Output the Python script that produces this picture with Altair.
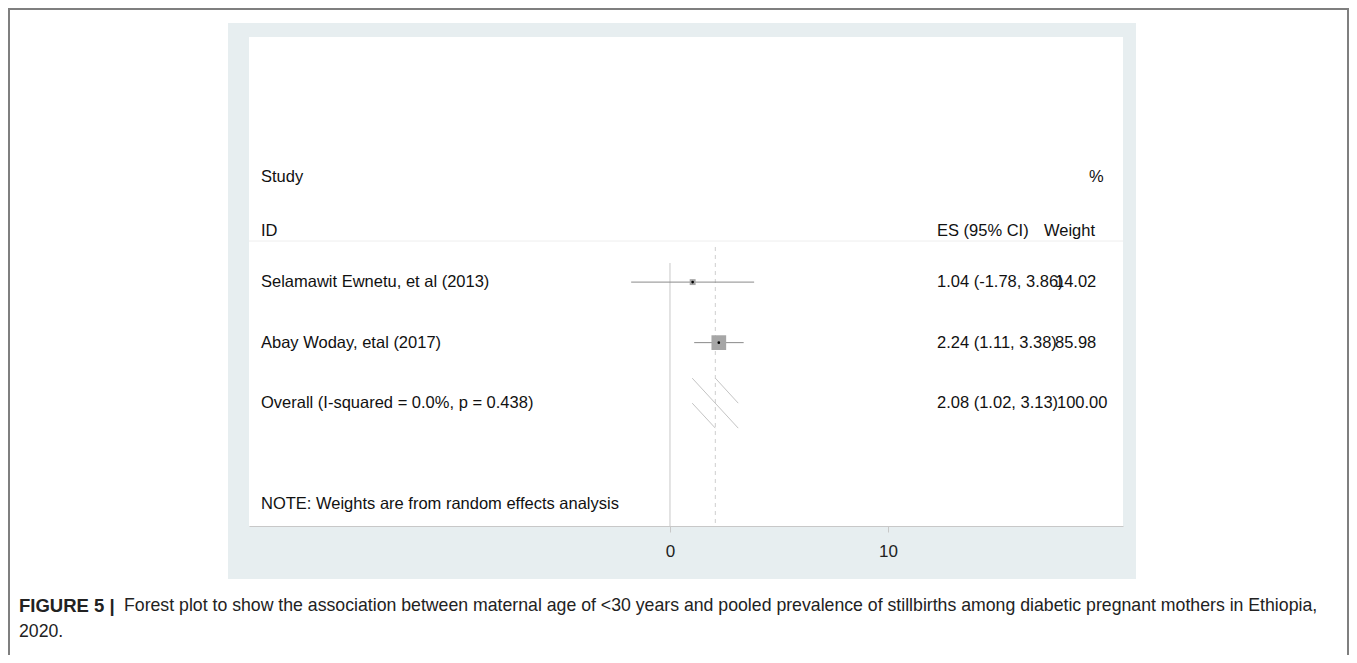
import altair as alt
import pandas as pd

# ---------------- data ----------------
studies = ["Selamawit Ewnetu, et al (2013)", "Abay Woday, etal (2017)"]
rows = [1, 2]
es = [1.04, 2.24]
ci_low = [-1.78, 1.11]
ci_high = [3.86, 3.38]
weights = [14.02, 85.98]
es_text = ["1.04 (-1.78, 3.86)", "2.24 (1.11, 3.38)"]
weight_text = ["14.02", "85.98"]

overall_label = "Overall (I-squared = 0.0%, p = 0.438)"
overall_row = 3
overall_es = 2.08
overall_low = 1.02
overall_high = 3.13
overall_es_text = "2.08 (1.02, 3.13)"
overall_weight_text = "100.00"

x_ticks = [0, 10]
note_text = "NOTE: Weights are from random effects analysis"
header_left = ["Study", "ID"]
header_es = "ES (95% CI)"
header_w = ["%", "Weight"]
caption_bold = "FIGURE 5 |"
caption_line1 = ("Forest plot to show the association between maternal age of <30 years and pooled "
                 "prevalence of stillbirths among diabetic pregnant mothers in Ethiopia,")
caption_line2 = "2020."

# ---------------- layout ----------------
W, H = 874, 489
PAD_L, PAD_T, PAD_R, PAD_B = 241, 29, 226, 129
FONT = "Liberation Sans"
TXT = 16.5
X_ES, X_W = 688, 806

xscale = alt.Scale(domain=[-19.31, 20.78], nice=False, zero=False)
yscale = alt.Scale(domain=[-3.05, 5.03], nice=False, zero=False, reverse=True)
Y = lambda f: alt.Y(f, scale=yscale, axis=None)
X = lambda f: alt.X(f, scale=xscale)

one = pd.DataFrame({"k": [0]})
studies_df = pd.DataFrame({"study": studies, "row": rows, "es": es, "lo": ci_low,
                           "hi": ci_high, "w": weights, "es_t": es_text, "w_t": weight_text})
overall_df = pd.DataFrame({"label": [overall_label], "row": [overall_row], "es": [overall_es],
                           "lo": [overall_low], "hi": [overall_high],
                           "es_t": [overall_es_text], "w_t": [overall_weight_text]})
ticks_df = pd.DataFrame({"x": x_ticks})

DH = 0.413  # diamond half-height in rows
diam_df = pd.DataFrame({
    "x": [overall_low, overall_es, overall_low],
    "y": [overall_row - DH, overall_row - DH, overall_row],
    "x2": [overall_high, overall_high, overall_es],
    "y2": [overall_row + DH, overall_row, overall_row + DH],
})

base = alt.Chart(one)

axis_layer = alt.Chart(ticks_df).mark_point(opacity=0).encode(
    x=alt.X("x:Q", scale=xscale,
            axis=alt.Axis(values=x_ticks, title=None, grid=False, domainColor="#c8c8c8",
                          tickColor="#c8c8c8", tickSize=6, labelFontSize=17, labelFont=FONT,
                          labelColor="#222222", labelPadding=11, format="d", zindex=1)),
    y=alt.value(0))

frame_col = "#7f7f7f"
frame_left = base.mark_rule(color=frame_col, strokeWidth=2).encode(
    x=alt.value(-240), y=alt.value(-28), y2=alt.value(H + PAD_B))
frame_top = base.mark_rule(color=frame_col, strokeWidth=2).encode(
    x=alt.value(-241), x2=alt.value(W + PAD_R), y=alt.value(-28))
frame_right = base.mark_rule(color=frame_col, strokeWidth=2).encode(
    x=alt.value(W + PAD_R - 1), y=alt.value(-28), y2=alt.value(H + PAD_B))

panel = base.mark_rect(color="#e7eef0").encode(
    x=alt.value(-21), x2=alt.value(W + 13), y=alt.value(-14), y2=alt.value(H + 53))
white = base.mark_rect(color="white").encode(
    x=alt.value(0), x2=alt.value(W), y=alt.value(0), y2=alt.value(H))

sep = base.mark_rule(color="#eeeeee", strokeWidth=1).encode(
    x=alt.value(0), x2=alt.value(W), y=alt.value(204))

null_line = alt.Chart(pd.DataFrame({"x": [0]})).mark_rule(color="#c8c8c8", strokeWidth=1).encode(
    x=X("x:Q"), y=alt.value(226), y2=alt.value(H))
overall_line = alt.Chart(overall_df).mark_rule(color="#cfcfcf", strokeWidth=1, strokeDash=[4, 4]).encode(
    x=X("es:Q"), y=alt.value(210), y2=alt.value(H))

ci = alt.Chart(studies_df).mark_rule(color="#8a8a8a", strokeWidth=1).encode(
    x=X("lo:Q"), x2="hi:Q", y=Y("row:Q"))
squares = alt.Chart(studies_df).mark_square(color="#a6a6a6", opacity=1).encode(
    x=X("es:Q"), y=Y("row:Q"),
    size=alt.Size("w:Q", scale=alt.Scale(domain=[0, 85.98], range=[0, 216]), legend=None))
dots = alt.Chart(studies_df).mark_circle(color="black", size=7, opacity=1).encode(
    x=X("es:Q"), y=Y("row:Q"))

diamond = alt.Chart(diam_df).mark_rule(color="#c4c4c4", strokeWidth=1).encode(
    x=X("x:Q"), x2="x2:Q", y=Y("y:Q"), y2="y2:Q")

txt = dict(font=FONT, fontSize=TXT, color="#111111", align="left", baseline="middle")
study_lbl = alt.Chart(studies_df).mark_text(**txt).encode(
    x=alt.value(12), y=Y("row:Q"), text="study:N")
study_es = alt.Chart(studies_df).mark_text(**txt).encode(
    x=alt.value(X_ES), y=Y("row:Q"), text="es_t:N")
study_w = alt.Chart(studies_df).mark_text(**txt).encode(
    x=alt.value(X_W), y=Y("row:Q"), text="w_t:N")
ov_lbl = alt.Chart(overall_df).mark_text(**txt).encode(
    x=alt.value(12), y=Y("row:Q"), text="label:N")
ov_es = alt.Chart(overall_df).mark_text(**txt).encode(
    x=alt.value(X_ES), y=Y("row:Q"), text="es_t:N")
ov_w = alt.Chart(overall_df).mark_text(**txt).encode(
    x=alt.value(X_W + 2), y=Y("row:Q"), text="w_t:N")

def label(t, x, y, **kw):
    return alt.Chart(pd.DataFrame({"t": [t]})).mark_text(**kw).encode(
        x=alt.value(x), y=alt.value(y), text="t:N")

hdr = [
    label(header_left[0], 12, 140, **txt),
    label(header_left[1], 12, 194, **txt),
    label(header_es, X_ES, 194, **txt),
    label(header_w[0], 840, 140, **txt),
    label(header_w[1], 795, 194, **txt),
]
note = label(note_text, 12, 467, **txt)

cap = dict(font=FONT, color="#222222", align="left", baseline="middle")
caps = [
    label(caption_bold, -230, 569, fontWeight="bold", fontSize=18.5, **cap),
    label(caption_line1, -125, 569, fontSize=17.7, **cap),
    label(caption_line2, -230, 595, fontSize=17.7, **cap),
]

chart = alt.layer(
    axis_layer,
    frame_left, frame_top, frame_right, panel, white, sep, null_line, overall_line,
    ci, squares, dots, diamond,
    study_lbl, study_es, study_w, ov_lbl, ov_es, ov_w,
    *hdr, note, *caps,
).properties(
    width=W, height=H,
    padding={"left": PAD_L, "top": PAD_T, "right": PAD_R, "bottom": PAD_B},
    autosize=alt.AutoSizeParams(type="none"),
).configure_view(stroke=None, fill=None).configure(background="white")

chart.save("out.html", embed_options={"renderer": "svg", "actions": False})
